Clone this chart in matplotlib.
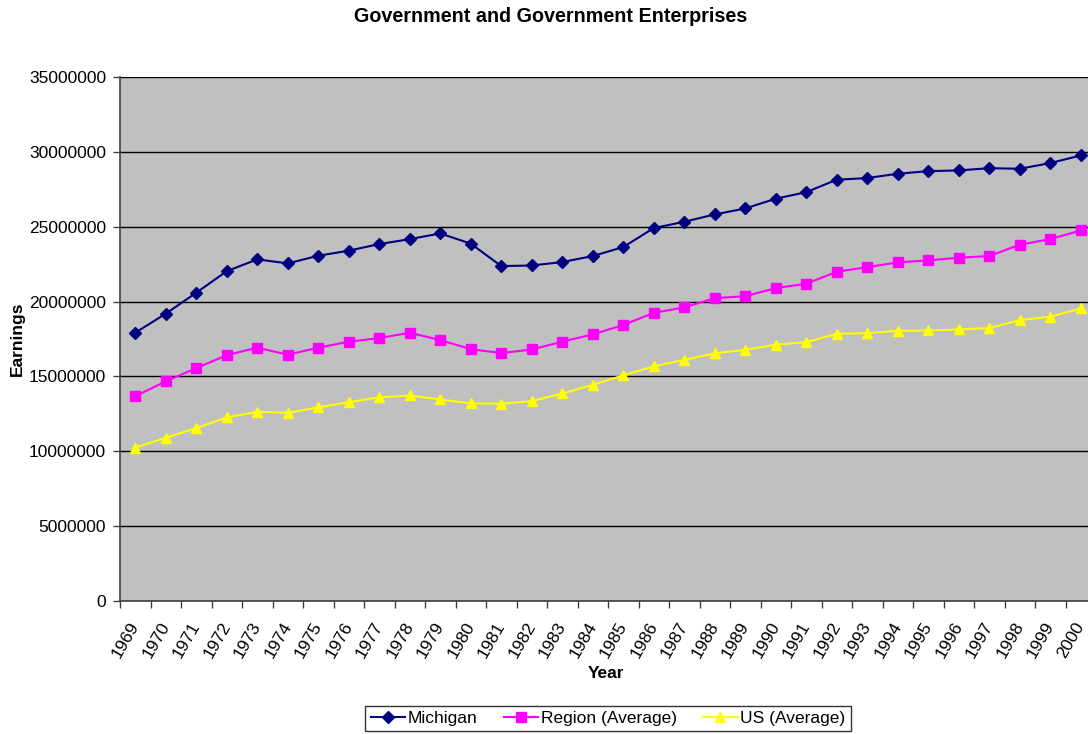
import matplotlib
matplotlib.use("Agg")
import matplotlib.pyplot as plt
import numpy as np

plt.rcParams['font.family'] = ['Liberation Sans', 'DejaVu Sans']

years = [str(y) for y in range(1969, 2001)]

michigan = [17.92, 19.19, 20.59, 22.03, 22.82, 22.55, 23.06, 23.40, 23.84, 24.17,
            24.55, 23.87, 22.37, 22.41, 22.64, 23.04, 23.64, 24.91, 25.33, 25.82,
            26.22, 26.87, 27.31, 28.14, 28.25, 28.54, 28.71, 28.76, 28.91, 28.87,
            29.25, 29.76]
region = [13.68, 14.67, 15.55, 16.42, 16.92, 16.45, 16.92, 17.32, 17.56, 17.92,
          17.43, 16.82, 16.56, 16.80, 17.32, 17.81, 18.43, 19.25, 19.61, 20.23,
          20.36, 20.90, 21.19, 21.99, 22.30, 22.62, 22.75, 22.93, 23.04, 23.80,
          24.17, 24.75]
us = [10.25, 10.90, 11.55, 12.26, 12.64, 12.57, 12.93, 13.28, 13.60, 13.73,
      13.46, 13.20, 13.18, 13.35, 13.86, 14.44, 15.07, 15.67, 16.11, 16.54,
      16.78, 17.12, 17.29, 17.85, 17.89, 18.05, 18.07, 18.14, 18.23, 18.76,
      18.99, 19.54]

scale = 1_000_000
michigan = np.array(michigan) * scale
region = np.array(region) * scale
us = np.array(us) * scale

W, H = 1088, 734
fig = plt.figure(figsize=(W / 100, H / 100), dpi=100)
fig.patch.set_facecolor('white')

left, right, top, bottom = 120, 1096, 77, 601
ax = fig.add_axes([left / W, (H - bottom) / H, (right - left) / W, (bottom - top) / H])
ax.set_facecolor('#C0C0C0')

x = np.arange(len(years))
ax.plot(x, michigan, color='#000080', marker='D', markersize=6.5, linewidth=1.5,
        label='Michigan', clip_on=False, zorder=4)
ax.plot(x, region, color='#FF00FF', marker='s', markersize=7, linewidth=1.5,
        label='Region (Average)', clip_on=False, zorder=3)
ax.plot(x, us, color='#FFFF00', marker='^', markersize=7.5, linewidth=1.5,
        label='US (Average)', clip_on=False, zorder=3)

ax.set_xlim(-0.5, len(years) - 0.5)
ax.set_ylim(0, 35_000_000)
yt = np.arange(0, 35_000_001, 5_000_000)
ax.set_yticks(yt)
ax.set_yticklabels([str(int(v)) for v in yt], fontsize=12.5)
ax.yaxis.grid(True, color='black', linewidth=1.0)
ax.set_axisbelow(True)

# boundary ticks between categories, labels centred on each category
ax.set_xticks(np.arange(-0.5, len(years), 1.0))
ax.set_xticklabels([])
ax.set_xticks(x, minor=True)
ax.set_xticklabels(years, minor=True, rotation=60, ha='right', va='center',
                   rotation_mode='anchor', fontsize=12.5)
ax.tick_params(axis='x', which='minor', length=0, pad=16)
ax.tick_params(axis='x', which='major', length=5, width=1, color='#404040')
ax.tick_params(axis='y', length=5, width=1, color='#404040', pad=5)

for s in ['top', 'right']:
    ax.spines[s].set_visible(False)
ax.spines['left'].set_color('#404040')
ax.spines['bottom'].set_color('#404040')
ax.spines['left'].set_linewidth(1.2)
ax.spines['bottom'].set_linewidth(1.2)

fig.text(550.5 / W, 1 - 17 / H, 'Government and Government Enterprises',
         ha='center', va='center', fontsize=14.2, fontweight='bold')
fig.text(606.5 / W, 1 - 674 / H, 'Year', ha='center', va='center',
         fontsize=12.5, fontweight='bold')
fig.text(17.5 / W, 1 - 339 / H, 'Earnings', ha='center', va='center',
         rotation=90, fontsize=12.5, fontweight='bold')

leg = fig.legend(loc='center', bbox_to_anchor=(608 / W, 1 - 718.5 / H), ncol=3,
                 fontsize=12.5, frameon=True, fancybox=False, edgecolor='black',
                 handlelength=2.0, columnspacing=1.5, borderpad=0.3,
                 borderaxespad=0, handletextpad=0.15)
leg.get_frame().set_linewidth(1.0)

fig.savefig('out.png', dpi=100, facecolor='white')
